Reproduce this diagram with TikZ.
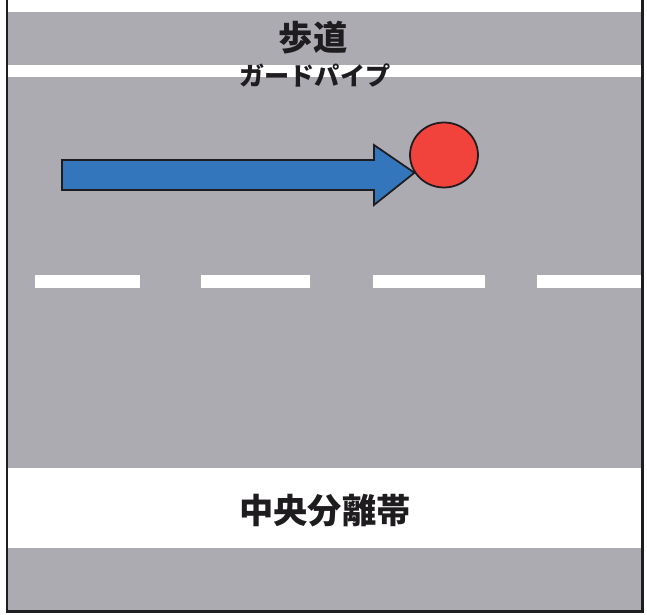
\documentclass[tikz,border=0pt]{standalone}
\usepackage{fontspec}
\newfontfamily\jpfont{Noto Sans CJK JP}
\usepackage{tikz}
\usetikzlibrary{positioning}
\usetikzlibrary{shapes.geometric}
\usetikzlibrary{calc}
\definecolor{asphalt}{RGB}{173,171,178}
\definecolor{arrowblue}{RGB}{52,118,188}
\definecolor{ballred}{RGB}{242,66,60}
\definecolor{ink}{RGB}{30,28,30}
\tikzstyle{lane}=[fill=asphalt,draw=none]
\tikzstyle{stripe}=[fill=white,draw=none]
\tikzstyle{roadtext}=[font=\jpfont\bfseries,text=ink,inner sep=0pt]
\tikzstyle{ball}=[ellipse,fill=ballred,draw=ink,line width=1pt,minimum width=1.36cm,minimum height=1.3cm]
\tikzstyle{bigarrow}=[fill=arrowblue,draw=ink,line width=1pt,line join=miter]
\tikzset{frameline/.style={draw=ink,line width=0.06cm}}

\begin{document}
\begin{tikzpicture}[x=0.02cm,y=-0.02cm]

 \useasboundingbox (0,0) rectangle (647,615);
 \fill[white] (0,0) rectangle (647,615);

 %sidewalk, road, lower lane
 \path[lane] (8,12) rectangle (641,65);
 \path[lane] (8,77) rectangle (641,468);
 \path[lane] (8,548) rectangle (641,611);

 %lane marks
 \foreach \xa/\xb in {35/140, 201/310, 373/485, 537/641}
   \path[stripe] (\xa,275) rectangle (\xb,288);

 %frame
 \draw[frameline] (7,0) -- (7,612) -- (642,612) -- (642,0);

 %texts
 \node[roadtext] (walk) at (313,38) {\fontsize{19.5pt}{21pt}\selectfont 歩道};
 \node[roadtext] (pipe) at (315,75) {\fontsize{14.3pt}{16pt}\selectfont ガードパイプ};
 \node[roadtext] (median) at (325,511) {\fontsize{19.5pt}{22pt}\selectfont 中央分離帯};

 %car and ball
 \node[ball] (ball) at (444,155) {};
 \coordinate (tail) at (62,175);
 \draw[bigarrow] (tail) ++(0,-15) -- (374,160) -- (374,145) -- (ball.211)
   -- (374,205) -- (374,190) -- ($(tail)+(0,15)$) -- cycle;

\end{tikzpicture}
\end{document}
